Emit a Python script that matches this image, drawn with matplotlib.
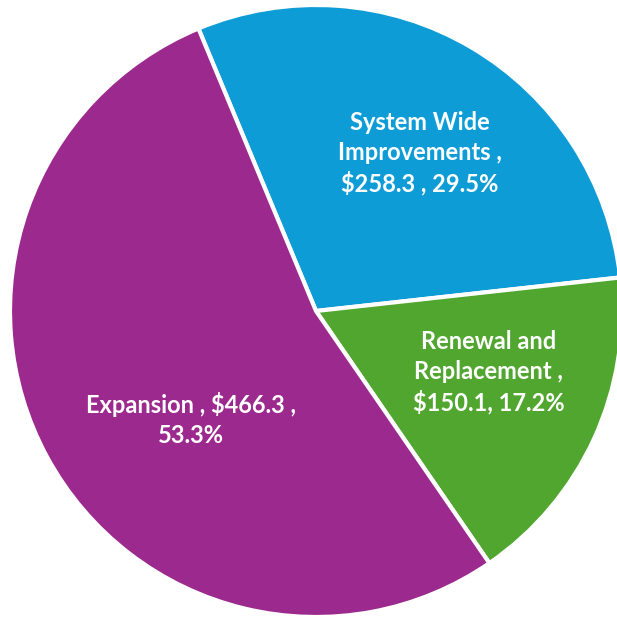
import matplotlib
matplotlib.use("Agg")
import matplotlib.pyplot as plt

categories = ["System Wide Improvements", "Renewal and Replacement", "Expansion"]
values = [258.3, 150.1, 466.3]
percents = ["29.5%", "17.2%", "53.3%"]
label_texts = ["System Wide\nImprovements ,\n$258.3 , 29.5%",
               "Renewal and\nReplacement ,\n$150.1, 17.2%",
               "Expansion , $466.3 ,\n53.3%"]
colors = ["#0E9CD6", "#50A62F", "#9C298D"]
label_pos = [(0.34, 0.515), (0.565, -0.20), (-0.41, -0.355)]

W, H = 617, 619
fig = plt.figure(figsize=(W / 100, H / 100), dpi=100)
ax = fig.add_axes([0, 0, 1, 1])
cx, cy, r = 316, 311, 306
ax.pie(values, colors=colors, startangle=112.6, counterclock=False,
       wedgeprops=dict(edgecolor="white", linewidth=3), radius=1.0, center=(0, 0))
ax.set_xlim(-cx / r, (W - cx) / r)
ax.set_ylim(-(H - cy) / r, cy / r)
ax.set_aspect("auto")
ax.axis("off")

for txt, (x, y) in zip(label_texts, label_pos):
    ax.text(x, y, txt, ha="center", va="center", color="white",
            fontsize=17, fontweight="bold", family="Lato", linespacing=1.35)

fig.savefig("out.png", dpi=100)
